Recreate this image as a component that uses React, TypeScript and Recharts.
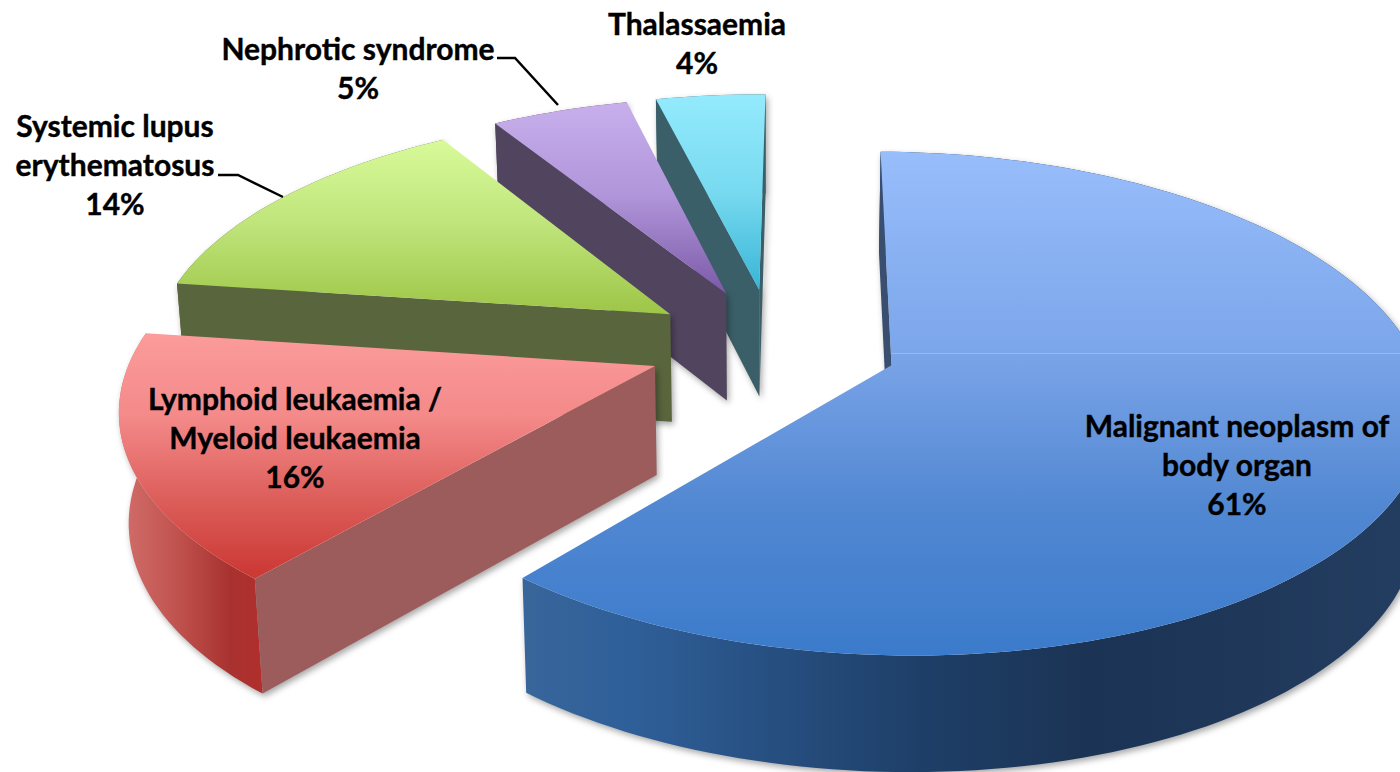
import React from 'react';
import { PieChart, Pie } from 'recharts';

// back-to-front order, the pie runs anticlockwise from 12 o'clock so later slices paint on top
const DISEASES = ['Thalassaemia', 'Nephrotic syndrome', 'Systemic lupus erythematosus', 'Lymphoid leukaemia / Myeloid leukaemia', 'Malignant neoplasm of body organ'];
const SHARES = [4, 5, 14, 16, 61];

const chartData = DISEASES.map((name, i) => ({ name, value: SHARES[i] }));

const WIDTH = 1400;
const HEIGHT = 772;

// fake 3D set up
const CX = 773;
const CY = 345;
const RADIUS = 520;
const TILT = 0.4615;
const PERSPECTIVE = 0.15;
const EXPLODE = 0.24;
const SHRINK = 0.985;
const START_ANGLE = 89.4;

type Stop = [number, string];

const TOP_STOPS: Stop[][] = [
  [[0, '#95EBFD'], [0.5, '#78DAF0'], [1, '#38B4D6']],
  [[0, '#C8B0EC'], [0.5, '#B095DA'], [1, '#7C5AA8']],
  [[0, '#D9FB9B'], [0.5, '#BEE47A'], [1, '#9DC546']],
  [[0, '#FC9C9C'], [0.35, '#F48A8A'], [0.7, '#DC5E5A'], [1, '#CC3A36']],
  [[0, '#98BDFB'], [0.3975, '#7BA6EA'], [0.398, '#98B9EE'], [0.3995, '#98B9EE'], [0.4, '#7AA4E8'], [0.7, '#5288D2'], [1, '#3B7BCB']],
];
const TOP_SPAN = [[90, 292], [100, 292], [137, 315], [330, 572], [153, 655]];
const WALL_COLORS = ['#3B5F68', '#51445E', '#59653D', '#9C5C5B', '#3A4E70'];
const ARC_STOPS: Stop[][] = [
  [[0, '#3B5F68'], [1, '#3B5F68']],
  [[0, '#51445E'], [1, '#51445E']],
  [[0, '#59653D'], [1, '#59653D']],
  [[0, '#D06C68'], [0.35, '#C25450'], [0.75, '#A83230'], [1, '#B22E2C']],
  [[0, '#38669B'], [0.12, '#2F5F99'], [0.45, '#1E3F68'], [0.65, '#1B3354'], [1, '#233D60']],
];
const ARC_SPAN = [[655, 760], [497, 640], [180, 440], [125, 265], [525, 1400]];

const LABEL_LINES = [
  ['Thalassaemia', '4%'],
  ['Nephrotic syndrome', '5%'],
  ['Systemic lupus', 'erythematosus', '14%'],
  ['Lymphoid leukaemia /', 'Myeloid leukaemia', '16%'],
  ['Malignant neoplasm of', 'body organ', '61%'],
];
const LABEL_X = [697, 358, 115, 295, 1237];
const LABEL_Y = [35, 60, 137, 410, 437];
const LABEL_ROW = 39;
const LEADERS = ['', '497,58 515,58 558,105', '218,175 238,175 283,197', '', ''];

const toRad = (deg: number) => (deg * Math.PI) / 180;

const project = (u: number, v: number, lower: boolean) => {
  const d = 1 - PERSPECTIVE * v;
  let x = (RADIUS * u) / d;
  let y = (RADIUS * TILT * v) / d;
  if (lower) {
    x *= SHRINK;
    y += 108.5 + 7.5 * v;
  }
  return [CX + x, CY + y];
};

// recharts angle -> point on the disc, u to the right and v towards the viewer
const disc = (angle: number) => [Math.cos(toRad(angle)), -Math.sin(toRad(angle))];

const pts = (list: number[][]) => list.map((p) => `${p[0].toFixed(1)},${p[1].toFixed(1)}`).join(' ');

const SliceShape = (props: any) => {
  const { startAngle, endAngle, index } = props;
  const mid = (startAngle + endAngle) / 2;
  const off = disc(mid).map((n) => n * EXPLODE);
  const at = (angle: number, r: number, lower: boolean) => {
    const p = disc(angle);
    return project(off[0] + p[0] * r, off[1] + p[1] * r, lower);
  };

  const steps = Math.ceil(Math.abs(endAngle - startAngle) / 1.5);
  const arcTop: number[][] = [];
  const arcBottom: number[][] = [];
  for (let i = 0; i <= steps; i++) {
    const a = startAngle + ((endAngle - startAngle) * i) / steps;
    arcTop.push(at(a, 1, false));
    arcBottom.push(at(a, 1, true));
  }

  const wall = (angle: number) => [at(0, 0, false), at(angle, 1, false), at(angle, 1, true), at(0, 0, true)];
  // back-facing cut walls are skipped, they would show through the outer wall
  const turn = (q: number[][]) =>
    (q[1][0] - q[0][0]) * (q[2][1] - q[1][1]) - (q[1][1] - q[0][1]) * (q[2][0] - q[1][0]);
  const walls = [
    ...(turn(wall(startAngle)) > 0 ? [startAngle] : []),
    ...(turn(wall(endAngle)) < 0 ? [endAngle] : []),
  ];

  const topId = `top-${index}`;
  const arcId = `arc-${index}`;
  return (
    <g>
      <defs>
        <linearGradient id={topId} gradientUnits="userSpaceOnUse" x1="0" x2="0" y1={TOP_SPAN[index][0]} y2={TOP_SPAN[index][1]}>
          {TOP_STOPS[index].map((s, i) => <stop key={i} offset={s[0]} stopColor={s[1]} />)}
        </linearGradient>
        <linearGradient id={arcId} gradientUnits="userSpaceOnUse" y1="0" y2="0" x1={ARC_SPAN[index][0]} x2={ARC_SPAN[index][1]}>
          {ARC_STOPS[index].map((s, i) => <stop key={i} offset={s[0]} stopColor={s[1]} />)}
        </linearGradient>
      </defs>
      <g style={{ filter: 'drop-shadow(2px 3px 3px rgba(0,0,0,0.35))' }}>
        <polygon points={pts([...arcTop, ...arcBottom.slice().reverse()])} fill={`url(#${arcId})`} />
        {walls.map((a) => <polygon key={a} points={pts(wall(a))} fill={WALL_COLORS[index]} />)}
      </g>
      <polygon points={pts([at(0, 0, false), ...arcTop])} fill={`url(#${topId})`} />
    </g>
  );
};

const renderLabel = (props: any) => {
  const { index } = props;
  return (
    <g>
      {LEADERS[index] && <polyline points={LEADERS[index]} fill="none" stroke="#000" strokeWidth={2.5} />}
      <text textAnchor="middle" fontFamily="Lato" fontWeight={700} fontSize={30} fill="#000" stroke="#000" strokeWidth={0.4}>
        {LABEL_LINES[index].map((line, i) => (
          <tspan key={line} x={LABEL_X[index]} y={LABEL_Y[index] + i * LABEL_ROW}>{line}</tspan>
        ))}
      </text>
    </g>
  );
};

export default function App() {
  return (
    <div style={{ position: 'absolute', left: 0, top: 0, width: WIDTH, height: HEIGHT, background: '#fff', overflow: 'hidden' }}>
      <PieChart width={WIDTH} height={HEIGHT} margin={{ top: 0, right: 0, bottom: 0, left: 0 }}>
        <Pie
          data={chartData}
          dataKey="value"
          nameKey="name"
          cx={CX}
          cy={CY}
          innerRadius={0}
          outerRadius={RADIUS}
          startAngle={START_ANGLE}
          endAngle={START_ANGLE + 360}
          paddingAngle={0}
          stroke="none"
          shape={SliceShape}
          label={renderLabel}
          labelLine={false}
          isAnimationActive={false}
        />
      </PieChart>
    </div>
  );
}
